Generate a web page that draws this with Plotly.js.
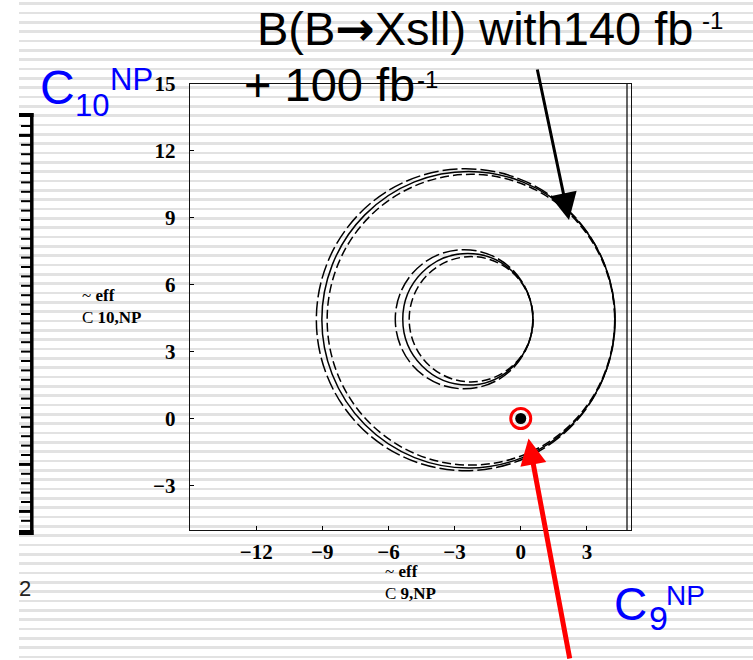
<!DOCTYPE html>
<html>
<head>
<meta charset="utf-8">
<script src="https://cdn.plot.ly/plotly-3.0.1.min.js"></script>
<style>
html, body { margin:0; padding:0; }
body {
  width:753px; height:660px; overflow:hidden;
  background:
    linear-gradient(to right, #ffffff 19px, rgba(255,255,255,0) 19px),
    repeating-linear-gradient(to bottom, #ffffff 0px, #ffffff 2.5px, #e2e2e2 2.5px, #e2e2e2 5px, #ffffff 5px, #ffffff 9.333px);
}
#chart { width:753px; height:660px; }
</style>
</head>
<body>
<div id="chart"></div>
<script>
// ---- data ----
const xTickVals = [-12, -9, -6, -3, 0, 3];
const yTickVals = [-3, 0, 3, 6, 9, 12, 15];
// contour rings (C9 centre, C10 centre, radius), outer ring then inner ring
const ringCenterX = [-2.50, -2.37, -2.26, -2.57, -2.40, -2.25];
const ringCenterY = [4.43, 4.43, 4.43, 4.45, 4.45, 4.45];
const ringRadius  = [6.77, 6.65, 6.52, 3.12, 2.95, 2.81];
// Standard Model point
const smPointX = [0];
const smPointY = [0];

// ---- styles ----
const ringDash = ['15px,4px', 'solid', '9px,4px', '15px,4px', 'solid', '9px,4px'];

// geometry of the plot area in pixels
const L = 190, R = 631, T = 84, B = 530;
const W = R - L, H = B - T;
const px2x = p => (p - L) / W;
const py2y = p => (B - p) / H;

const shapes = [];
for (let i = 0; i < ringRadius.length; i++) {
  shapes.push({
    type: 'circle', xref: 'x', yref: 'y',
    x0: ringCenterX[i] - ringRadius[i], x1: ringCenterX[i] + ringRadius[i],
    y0: ringCenterY[i] - ringRadius[i], y1: ringCenterY[i] + ringRadius[i],
    line: { color: '#000', width: 1.5, dash: ringDash[i] }
  });
}
// inner right frame line (double line)
shapes.push({ type:'line', xref:'paper', yref:'paper', x0:px2x(627), x1:px2x(627), y0:0, y1:1,
  line:{color:'#111', width:1.3} });

// slide ruler decoration on the left
shapes.push({ type:'line', xref:'paper', yref:'paper', x0:px2x(31.8), x1:px2x(31.8), y0:py2y(113), y1:py2y(535),
  line:{color:'#000', width:3.5} });
shapes.push({ type:'line', xref:'paper', yref:'paper', x0:px2x(19), x1:px2x(33.5), y0:py2y(115), y1:py2y(115),
  line:{color:'#000', width:4} });
shapes.push({ type:'line', xref:'paper', yref:'paper', x0:px2x(19), x1:px2x(33.5), y0:py2y(532.5), y1:py2y(532.5),
  line:{color:'#000', width:5} });
const longTicks = [1, 36, 41];
for (let i = 0; i <= 42; i++) {
  const yy = 126 + 9.4 * i;
  const isLong = longTicks.indexOf(i) >= 0;
  shapes.push({ type:'line', xref:'paper', yref:'paper',
    x0:px2x(isLong ? 19 : 21), x1:px2x(31), y0:py2y(yy), y1:py2y(yy),
    line:{color:'#000', width: isLong ? 3 : 2} });
}

function ann(text, px, py, size, family, color, weight) {
  return { xref:'paper', yref:'paper', x:px2x(px), y:py2y(py), xanchor:'left', yanchor:'middle',
    align:'left', text:text, showarrow:false, borderpad:0, borderwidth:0,
    font:{ family:family, size:size, color:color, weight:weight || 'normal' } };
}
const SANS = 'Liberation Sans, Arial, sans-serif';
const SERIF = 'Liberation Serif, Times New Roman, serif';

const annotations = [
  ann('B(B<span style="font-family:\'DejaVu Sans\';font-weight:bold">→</span>Xsll) with140 fb', 257, 29, 47, SANS, '#000'),
  ann('-1', 701.5, 20.5, 24, SANS, '#000'),
  ann('+ 100 fb', 244, 84, 47, SANS, '#000'),
  ann('-1', 416.5, 80, 24, SANS, '#000'),
  // C10 NP (blue)
  ann('C', 39.5, 87.5, 48, SANS, '#0000ff'),
  ann('10', 74.5, 105, 31, SANS, '#0000ff'),
  ann('NP', 109.5, 80, 31, SANS, '#0000ff'),
  // C9 NP (blue)
  ann('C', 613.5, 603.5, 46, SANS, '#0000ff'),
  ann('9', 648.5, 617.5, 34, SANS, '#0000ff'),
  ann('NP', 665.5, 595, 28, SANS, '#0000ff'),
  // slide number
  ann('2', 18.5, 588.5, 22, SANS, '#222'),
  // y axis title
  ann('~ <b>eff</b><br>C <b>10,NP</b>', 82, 306.8, 17, SERIF, '#000'),
  // x axis title
  ann('~ <b>eff</b><br>C <b>9,NP</b>', 385, 582.8, 17, SERIF, '#000'),
  // black arrow to outer contour
  { xref:'paper', yref:'paper', x:px2x(569), y:py2y(220), text:'', showarrow:true,
    ax:-32, ay:-152, arrowhead:2, arrowsize:1.8, arrowwidth:3, arrowcolor:'#000', standoff:0 },
  // red arrow to SM point
  { xref:'paper', yref:'paper', x:px2x(528.5), y:py2y(438.5), text:'', showarrow:true,
    ax:41.5, ay:225, arrowhead:2, arrowsize:1.05, arrowwidth:5, arrowcolor:'#ff0000', standoff:0 }
];

const traces = [
  { x: smPointX, y: smPointY, type:'scatter', mode:'markers', hoverinfo:'skip', showlegend:false,
    marker:{ symbol:'circle-open', size:20, color:'#ff0000', line:{ color:'#ff0000', width:3 } } },
  { x: smPointX, y: smPointY, type:'scatter', mode:'markers', hoverinfo:'skip', showlegend:false,
    marker:{ symbol:'circle', size:11, color:'#000' } }
];

const tickFont = { family: SERIF, size: 21, color:'#000', weight:'bold' };
const layout = {
  width:753, height:660, autosize:false,
  margin:{ l:L, r:753 - R, t:T, b:660 - B, pad:0 },
  paper_bgcolor:'rgba(0,0,0,0)', plot_bgcolor:'rgba(0,0,0,0)',
  showlegend:false,
  xaxis:{ range:[-15, 5], tickmode:'array', tickvals:xTickVals, ticks:'inside', ticklen:4, tickwidth:1,
    tickcolor:'#000', showline:true, linecolor:'#111', linewidth:1.3, mirror:true,
    showgrid:false, zeroline:false, tickfont:tickFont, ticklabelstandoff:2, fixedrange:true },
  yaxis:{ range:[-5, 15], tickmode:'array', tickvals:yTickVals, ticks:'inside', ticklen:4, tickwidth:1,
    tickcolor:'#000', showline:true, linecolor:'#111', linewidth:1.3, mirror:true,
    showgrid:false, zeroline:false, tickfont:tickFont, ticklabelstandoff:9, fixedrange:true },
  shapes: shapes,
  annotations: annotations
};

Plotly.newPlot('chart', traces, layout, { displayModeBar:false, staticPlot:true });
</script>
</body>
</html>
